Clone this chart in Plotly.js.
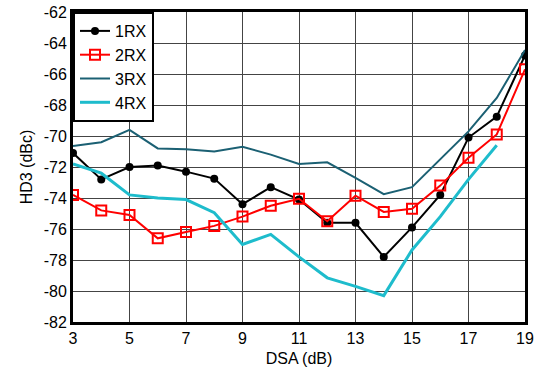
<!DOCTYPE html>
<html><head><meta charset="utf-8">
<script src="https://cdn.plot.ly/plotly-3.0.1.min.js"></script>
<style>html,body{margin:0;padding:0;background:#fff}#c{width:539px;height:367px}</style>
</head><body><div id="c"></div>
<script>
const dsa = [3,4,5,6,7,8,9,10,11,12,13,14,15,16,17,18,19];
const rx1 = [-71.1,-72.8,-72.0,-71.9,-72.3,-72.75,-74.4,-73.3,-74.1,-75.6,-75.6,-77.8,-75.9,-73.8,-70.1,-68.75,-64.8];
const rx2 = [-73.8,-74.8,-75.1,-76.6,-76.2,-75.8,-75.2,-74.5,-74.05,-75.5,-73.85,-74.9,-74.7,-73.2,-71.4,-69.9,-65.7];
const rx3 = [-70.65,-70.4,-69.6,-70.8,-70.85,-71.0,-70.7,-71.2,-71.8,-71.7,-72.7,-73.75,-73.3,-71.5,-69.7,-67.55,-64.45];
const dsa4 = [3,4,5,6,7,8,9,10,11,12,13,14,15,16,17,18];
const rx4 = [-71.8,-72.4,-73.8,-74.0,-74.1,-74.95,-77.0,-76.35,-77.8,-79.15,-79.7,-80.3,-77.35,-75.2,-72.8,-70.6];
const xTicks = [3,5,7,9,11,13,15,17,19];
const yTicks = [-82,-80,-78,-76,-74,-72,-70,-68,-66,-64,-62];

const traces = [
  {x: dsa, y: rx1, name: '1RX', mode: 'lines+markers', line: {color: '#000', width: 2}, marker: {symbol: 'circle', size: 8, color: '#000'}},
  {x: dsa, y: rx2, name: '2RX', mode: 'lines+markers', line: {color: '#ff0000', width: 2}, marker: {symbol: 'square-open', size: 10, color: '#ff0000', line: {width: 2}}},
  {x: dsa, y: rx3, name: '3RX', mode: 'lines', line: {color: '#1b6073', width: 2}},
  {x: dsa4, y: rx4, name: '4RX', mode: 'lines', line: {color: '#1ebccc', width: 3}}
];
const fam = 'Liberation Sans, Arial, sans-serif';
const font = {family: fam, size: 16, color: '#000'};
const layout = {
  width: 539, height: 367,
  margin: {l: 73, r: 14, t: 12, b: 45},
  paper_bgcolor: '#fff', plot_bgcolor: '#fff',
  font: font,
  showlegend: true,
  legend: {x: 0, y: 1, xanchor: 'left', yanchor: 'top', bgcolor: '#fff', bordercolor: '#000', borderwidth: 2,
           font: {family: fam, size: 16, color: '#000'}, tracegroupgap: 0, itemwidth: 30},
  xaxis: {range: [3, 19], tickvals: xTicks, ticktext: xTicks.map(String), showgrid: true, gridcolor: '#444', gridwidth: 1,
          showline: true, linecolor: '#000', linewidth: 3, mirror: true, ticks: '', zeroline: false, tickfont: font,
          automargin: false, title: {text: 'DSA (dB)', font: font}},
  yaxis: {range: [-82, -62], tickvals: yTicks, ticktext: yTicks.map(String), showgrid: true, gridcolor: '#444', gridwidth: 1,
          showline: true, linecolor: '#000', linewidth: 3, mirror: true, ticks: '', zeroline: false, tickfont: font,
          automargin: 'left', title: {text: 'HD3 (dBc)', font: font, standoff: 8}}
};
Plotly.newPlot('c', traces, layout, {staticPlot: true});
</script></body></html>
